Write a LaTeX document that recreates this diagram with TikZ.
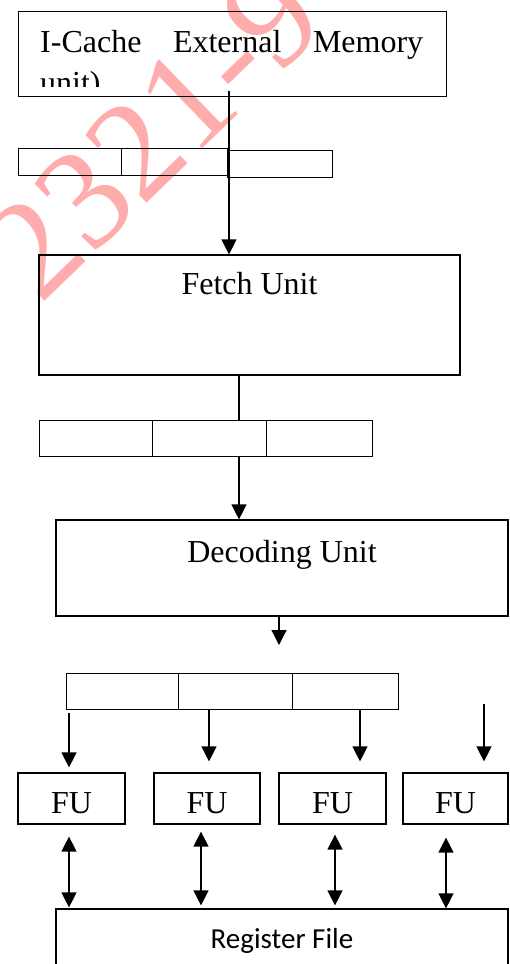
\documentclass[tikz,border=0pt]{standalone}
\usepackage{fontspec}
\setmainfont{Liberation Serif}
\newfontfamily\calib{Carlito}
\usetikzlibrary{arrows.meta}
\definecolor{wmred}{RGB}{255,172,172}
\begin{document}
\begin{tikzpicture}[x=1pt,y=-1pt,
  box/.style={draw, inner sep=0pt, line width=1.2pt},
  cell/.style={draw, inner sep=0pt, line width=1.2pt, anchor=north west},
  conn/.style={line width=1.3pt},
  arr/.style={conn, -{Triangle[length=15pt,width=15pt]}},
  darr/.style={conn, {Triangle[length=15pt,width=15pt]}-{Triangle[length=15pt,width=15pt]}},
  big/.style={font=\fontsize{32}{41}\selectfont}]
\clip (0,0) rectangle (509,964);
\fill[white] (0,0) rectangle (509,964);
% watermark
\node[font=\fontsize{142}{142}\selectfont, text=wmred, rotate=44, anchor=base west, inner sep=0pt] (wm) at (40,306) {2321-9};
% top memory box
\node[box, anchor=north west, minimum width=428pt, minimum height=85pt] (mem) at (18,11) {};
\begin{scope}
\clip (19,12) rectangle (445,86);
\node[big, inner sep=0pt, anchor=base west, text width=383pt, align=left] (memtext) at (40,52) {\hbox to 383pt{I-Cache\hfill External\hfill Memory}\\unit)};
\end{scope}
% queue 1
\node[cell, minimum width=103pt, minimum height=27pt] (q1a) at (18,148) {};
\node[cell, minimum width=106pt, minimum height=27pt] (q1b) at (121,148) {};
\node[cell, minimum width=105pt, minimum height=27pt] (q1c) at (227,150) {};
% fetch
\node[box, big, text height=39pt, text depth=81pt, minimum width=421pt, anchor=base] (fetch) at (249.5,294) {Fetch Unit};
% queue 2
\node[cell, minimum width=113pt, minimum height=36pt] (q2a) at (39,420) {};
\node[cell, minimum width=114pt, minimum height=36pt] (q2b) at (152,420) {};
\node[cell, minimum width=106pt, minimum height=36pt] (q2c) at (266,420) {};
% decoding
\node[box, big, text height=42pt, text depth=54pt, minimum width=452pt, anchor=base] (dec) at (282,562) {Decoding Unit};
% queue 3
\node[cell, minimum width=112pt, minimum height=36pt] (q3a) at (66,673) {};
\node[cell, minimum width=114pt, minimum height=36pt] (q3b) at (178,673) {};
\node[cell, minimum width=106pt, minimum height=36pt] (q3c) at (292,673) {};
% FUs
\node[box, big, text height=40pt, text depth=11pt, minimum width=107pt, anchor=base] (fu1) at (71.5,813) {FU};
\node[box, big, text height=40pt, text depth=11pt, minimum width=106pt, anchor=base] (fu2) at (207,813) {FU};
\node[box, big, text height=40pt, text depth=11pt, minimum width=107pt, anchor=base] (fu3) at (332.5,813) {FU};
\node[box, big, text height=40pt, text depth=11pt, minimum width=105pt, anchor=base] (fu4) at (455.5,813) {FU};
% register file
\node[box, font=\calib\fontsize{29}{35}\selectfont, text height=39pt, text depth=60pt, minimum width=452pt, anchor=base] (reg) at (282,948) {Register File};
% helper x positions
\coordinate (c1) at (229,0);
\coordinate (c2) at (239,0);
\coordinate (decout) at (279,645);
\coordinate (a1) at (69,0);
\coordinate (a2) at (209,0);
\coordinate (a3) at (360,0);
\coordinate (in4) at (484,704);
\coordinate (d1) at (69,0);
\coordinate (d2) at (201,0);
\coordinate (d3) at (335,0);
\coordinate (d4) at (446,0);
% connectors
\draw[arr] (mem.south -| c1) ++(0,-6) -- (fetch.north -| c1);
\draw[conn] (fetch.south -| c2) -- (q2b.north -| c2);
\draw[arr] (q2b.south -| c2) -- (dec.north -| c2);
\draw[arr] (dec.south -| decout) -- (decout);
\draw[arr, shorten >=5pt] (q3a.south -| a1) ++(0,3) -- (fu1.north -| a1);
\draw[arr, shorten >=11pt] (q3b.south -| a2) -- (fu2.north -| a2);
\draw[arr, shorten >=11pt] (q3c.south -| a3) -- (fu3.north -| a3);
\draw[arr, shorten >=11pt] (in4) -- (fu4.north -| in4);
\draw[darr, shorten <=12pt, shorten >=1pt] (fu1.south -| d1) -- (reg.north -| d1);
\draw[darr, shorten <=7pt, shorten >=3pt] (fu2.south -| d2) -- (reg.north -| d2);
\draw[darr, shorten <=10pt, shorten >=3pt] (fu3.south -| d3) -- (reg.north -| d3);
\draw[darr, shorten <=13pt] (fu4.south -| d4) -- (reg.north -| d4);
\end{tikzpicture}
\end{document}
